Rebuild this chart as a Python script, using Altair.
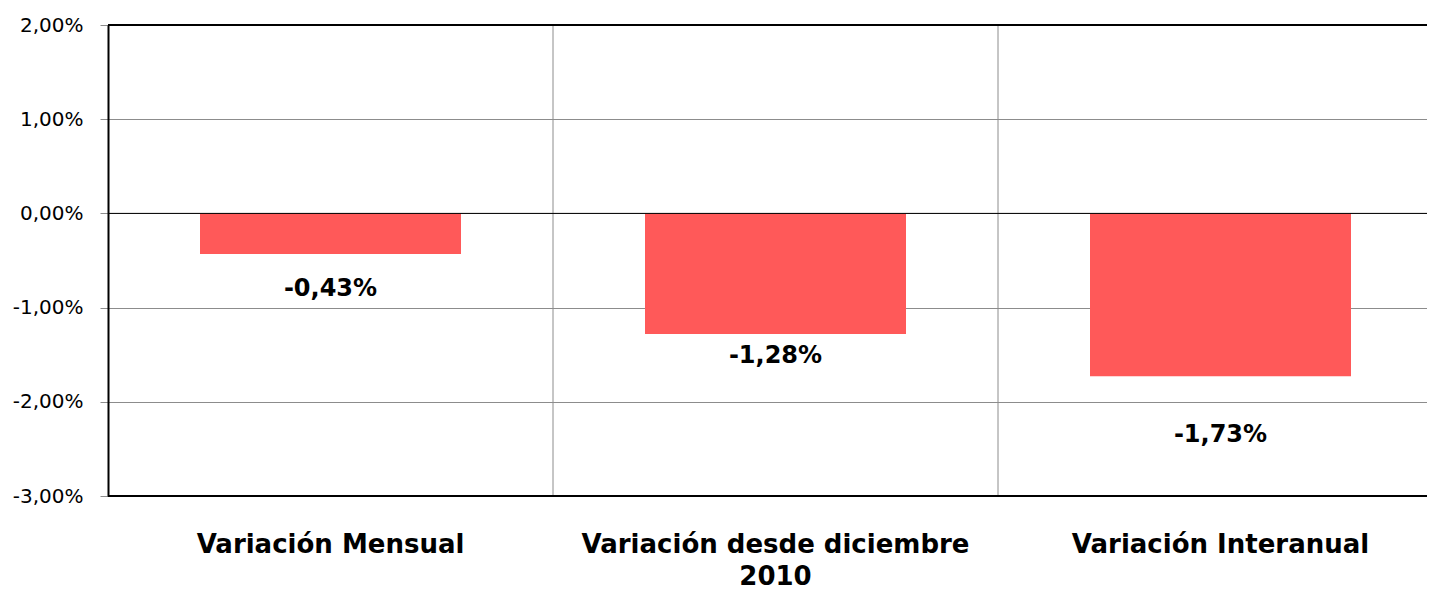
import altair as alt
import pandas as pd

categories = ["Variación Mensual", "Variación desde diciembre 2010", "Variación Interanual"]
values = [-0.0043, -0.0128, -0.0173]
value_labels = ["-0,43%", "-1,28%", "-1,73%"]
y_ticks = [-0.03, -0.02, -0.01, 0.0, 0.01, 0.02]
border_values = [-0.03, 0.02]
label_dy = [35, 22, 59]

df = pd.DataFrame({"cat": categories, "value": values, "label": value_labels})

FONT = "DejaVu Sans"
W, H = 1319, 471
BAND_RANGE = [0, 1335]

x_scale = alt.Scale(paddingInner=0, paddingOuter=0, range=BAND_RANGE)

x_enc = alt.X(
    "cat:N",
    sort=categories,
    scale=x_scale,
    axis=alt.Axis(
        title=None,
        labelAngle=0,
        labelAlign="center",
        labelFont=FONT,
        labelFontWeight="bold",
        labelFontSize=26,
        labelColor="black",
        labelPadding=35,
        labelLineHeight=32,
        labelBaseline="top",
        labelLimit=0,
        ticks=False,
        domain=False,
        grid=False,
        labelExpr="datum.label == 'Variación desde diciembre 2010' ? ['Variación desde diciembre', '2010'] : datum.label",
    ),
)

y_enc = alt.Y(
    "value:Q",
    scale=alt.Scale(domain=[-0.03, 0.02], nice=False, zero=False),
    axis=alt.Axis(
        title=None,
        values=y_ticks,
        labelExpr="replace(replace(format(datum.value, '.2%'), '.', ','), '\u2212', '-')",
        labelFont=FONT,
        labelFontSize=20,
        labelColor="black",
        labelPadding=17,
        tickSize=8,
        tickColor="#8c8c8c",
        tickWidth=1,
        grid=True,
        gridColor="#8c8c8c",
        gridWidth=1,
        domain=True,
        domainColor="black",
        domainWidth=2,
    ),
)

base = alt.Chart(df)

vgrid = base.transform_filter(alt.datum.cat != categories[0]).mark_rule(
    color="#8c8c8c", strokeWidth=1
).encode(
    x=alt.X("cat:N", sort=categories, scale=x_scale, bandPosition=0),
    y=alt.value(0),
    y2=alt.value(H),
)

bars = base.mark_bar(color="#FF5959", width=261).encode(x=x_enc, y=y_enc)

zero = alt.Chart(pd.DataFrame({"z": [0.0]})).mark_rule(color="black", strokeWidth=1).encode(
    y=alt.Y("z:Q")
)

borders = alt.Chart(pd.DataFrame({"b": border_values})).mark_rule(color="black", strokeWidth=2).encode(
    y=alt.Y("b:Q")
)

texts = []
for cat, dy in zip(categories, label_dy):
    texts.append(
        base.transform_filter(alt.datum.cat == cat)
        .mark_text(font=FONT, fontWeight="bold", fontSize=24, color="black", baseline="middle", dy=dy)
        .encode(x=alt.X("cat:N", sort=categories, scale=x_scale), y=alt.Y("value:Q"), text="label:N")
    )

chart = alt.layer(vgrid, bars, zero, borders, *texts).properties(
    width=W,
    height=H,
    autosize=alt.AutoSizeParams(type="none"),
    padding={"left": 100, "top": 17, "right": 0, "bottom": 94},
).configure_view(stroke=None)

chart.save("out.html", embed_options={"renderer": "svg", "actions": False})
